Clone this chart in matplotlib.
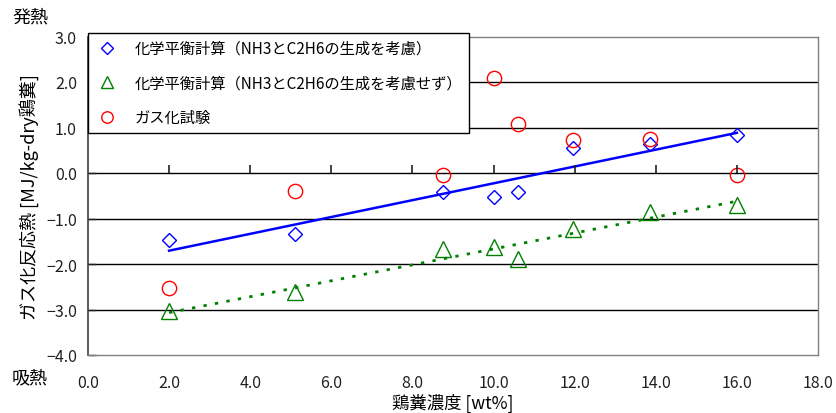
import numpy as np
import matplotlib
matplotlib.use("Agg")
from matplotlib import pyplot as plt

plt.rcParams['font.family'] = ['Noto Sans CJK JP', 'DejaVu Sans']

# %% data
conc_calc = [2.0, 5.1, 8.75, 10.0, 10.6, 11.95, 13.85, 16.0]      # [wt%]
heat_with = [-1.47, -1.34, -0.41, -0.52, -0.42, 0.54, 0.64, 0.84]  # NH3/C2H6 considered
heat_without = [-3.04, -2.62, -1.68, -1.63, -1.90, -1.23, -0.86, -0.70]

conc_test = [2.0, 5.1, 8.75, 10.0, 10.6, 11.95, 13.85, 16.0]
heat_test = [-2.53, -0.39, -0.04, 2.09, 1.08, 0.73, 0.74, -0.05]

label_with = "化学平衡計算（NH3とC2H6の生成を考慮）"
label_without = "化学平衡計算（NH3とC2H6の生成を考慮せず）"
label_test = "ガス化試験"

x_ticks = np.arange(0, 18.1, 2.0)
y_ticks = np.arange(-4, 3.1, 1.0)

# linear trend lines (Excel style)
fit_with = np.polyfit(conc_calc, heat_with, 1)
fit_without = np.polyfit(conc_calc, heat_without, 1)
x_fit = np.array([min(conc_calc), max(conc_calc)])

# %% plot
fig = plt.figure(figsize=(8.36, 4.14), dpi=100)
ax_left, ax_bottom, ax_w, ax_h = 88 / 836, 1 - 356 / 414, 730 / 836, 318.5 / 414
ax = fig.add_axes([ax_left, ax_bottom, ax_w, ax_h])

ax.set_xlim(0, 18)
ax.set_ylim(-4, 3)
ax.set_yticks(y_ticks)
ax.set_xticks(x_ticks)
ax.set_yticklabels([f"{v:.1f}".replace("-", "−") for v in y_ticks])
ax.set_xticklabels([f"{v:.1f}" for v in x_ticks])

for y in y_ticks[1:-1]:
    ax.axhline(y, color="black", linewidth=1.0, zorder=1)

for side in ["top", "right", "bottom"]:
    ax.spines[side].set_color("#808080")
    ax.spines[side].set_linewidth(1.0)
ax.spines["left"].set_color("#404040")
ax.spines["left"].set_linewidth(1.2)

ax.tick_params(axis="x", length=0, labelsize=11.5, pad=14, colors="#202020")
ax.tick_params(axis="y", direction="in", length=6, width=1, labelsize=11.5, pad=8,
               colors="#202020")

# x axis crosses at y = 0: tick marks on the zero line
zero_frac = (0 - ax.get_ylim()[0]) / (ax.get_ylim()[1] - ax.get_ylim()[0])
ax_zero = fig.add_axes([ax_left, ax_bottom + zero_frac * ax_h, ax_w, 1e-4])
ax_zero.patch.set_visible(False)
for side in ax_zero.spines:
    ax_zero.spines[side].set_visible(False)
ax_zero.set_xlim(ax.get_xlim())
ax_zero.set_yticks([])
ax_zero.set_xticks(x_ticks[1:-1])
ax_zero.tick_params(axis="x", direction="in", length=6, width=1.2, colors="#202020",
                    bottom=True, top=False, labelbottom=False)

ax.plot(x_fit, np.polyval(fit_with, x_fit), color="#0000FF", linewidth=1.8, zorder=2)
ax.plot(x_fit, np.polyval(fit_without, x_fit), color="#008000", linewidth=2.0,
        linestyle=(0, (1.2, 3.0)), zorder=2)

ax.plot(conc_calc, heat_with, linestyle="none", marker="D", markersize=7.5,
        markerfacecolor="none", markeredgecolor="#0000FF", markeredgewidth=1.0,
        label=label_with, zorder=3)
ax.plot(conc_calc, heat_without, linestyle="none", marker="^", markersize=11,
        markerfacecolor="none", markeredgecolor="#008000", markeredgewidth=1.0,
        label=label_without, zorder=3)
ax.plot(conc_test, heat_test, linestyle="none", marker="o", markersize=10.3,
        markerfacecolor="none", markeredgecolor="#FF0000", markeredgewidth=1.0,
        label=label_test, zorder=3)

leg = ax.legend(loc="upper left", bbox_to_anchor=(88 / 836, 1 - 34 / 414),
                bbox_transform=fig.transFigure, borderaxespad=0, fontsize=11,
                frameon=True, fancybox=False, framealpha=1, edgecolor="black",
                labelspacing=1.15, handletextpad=1.0, handlelength=1.6,
                borderpad=0.45, markerscale=0.8)
leg.get_frame().set_linewidth(1.0)
leg.set_zorder(5)

ax.set_ylabel("ガス化反応熱 [MJ/kg-dry鶏糞]", fontsize=13, labelpad=5)
ax.set_xlabel("鶏糞濃度 [wt%]", fontsize=12.5, labelpad=1)

fig.text(12 / 836, 1 - 18 / 414, "発熱", fontsize=13, va="center", ha="left")
fig.text(12 / 836, 1 - 378 / 414, "吸熱", fontsize=13, va="center", ha="left")

fig.savefig("out.png", dpi=100)
